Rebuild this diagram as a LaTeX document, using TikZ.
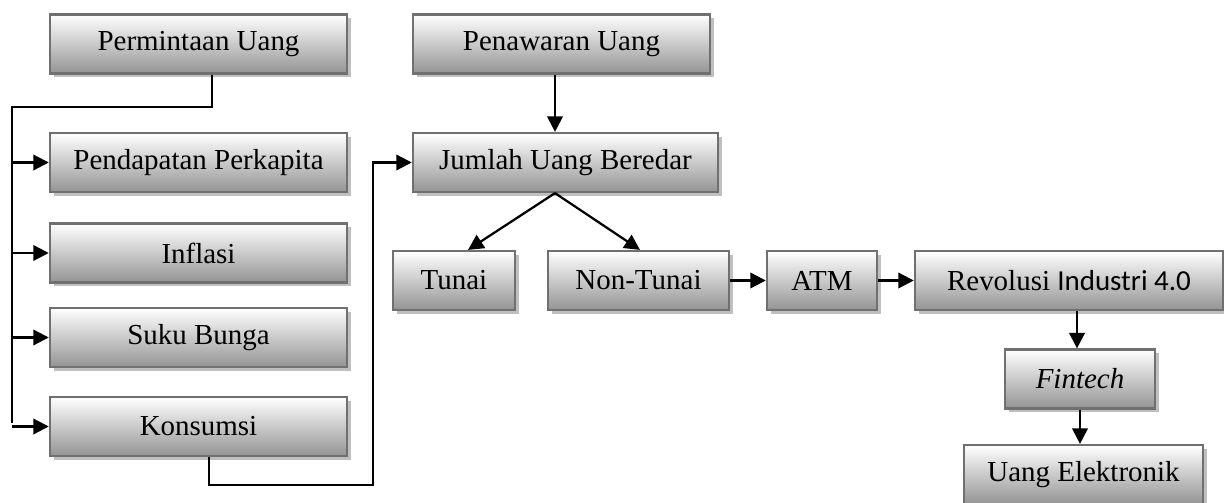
\documentclass[tikz,border=0pt]{standalone}
\usepackage{fontspec}
\setmainfont{Liberation Serif}
\newfontfamily\calfont{Carlito}
\usetikzlibrary{arrows.meta,shadows,calc}

\begin{document}
\begin{tikzpicture}[x=0.025cm,y=-0.025cm,
  box/.style={draw=black!56,line width=1.7pt,top color=white,bottom color=black!42,
    drop shadow={shadow xshift=0.09cm,shadow yshift=-0.09cm,fill=black!25,opacity=1},
    minimum height=1.47cm,inner sep=0pt,font=\fontsize{20.6}{24}\selectfont},
  arr/.style={line width=1.6pt,-{Triangle[length=11pt,width=11pt]}},
  line/.style={line width=1.6pt}]
\useasboundingbox (0,0) rectangle (1224,503);
% left column
\node[box,minimum width=7.425cm] (perm) at (198.5,44) {Permintaan Uang};
\node[box,minimum width=7.425cm] (pend) at (198.5,162.5) {Pendapatan Perkapita};
\node[box,minimum width=7.425cm] (infl) at (198.5,253) {Inflasi};
\node[box,minimum width=7.425cm] (suku) at (198.5,337.5) {Suku Bunga};
\node[box,minimum width=7.425cm] (kons) at (198.5,426.5) {Konsumsi};
% middle
\node[box,minimum width=7.425cm] (pena) at (561.5,44) {Penawaran Uang};
\node[box,minimum width=7.625cm] (jumlah) at (565.5,162.5) {Jumlah Uang Beredar};
\node[box,minimum width=3.05cm] (tunai) at (454,280.5) {Tunai};
\node[box,minimum width=4.525cm] (nontunai) at (638.5,280.5) {Non-Tunai};
% right
\node[box,minimum width=2.75cm] (atm) at (822,280.5) {ATM};
\node[box,minimum width=7.7cm] (rev) at (1069,280.5) {Revolusi {\calfont Industri 4.0}};
\node[box,minimum width=3.75cm] (fintech) at (1080,379) {\textit{Fintech}};
\node[box,minimum width=5.975cm] (uang) at (1083.5,474.5) {Uang Elektronik};

\coordinate (t1) at (12,107);
\coordinate (t2) at (12,423);
\coordinate (k1) at (373,485);
\draw[line] (perm.south) ++(13.5,0) |- (t1) -- (t2);
\foreach \n in {pend,infl,suku,kons}
  \draw[arr] (t1 |- \n.west) -- (\n.west);
\draw[arr] (kons.south) ++(10.5,0) |- (k1) |- (jumlah.west);
\draw[arr] ($(pena.south)+(-6.5,0)$) -- ($(pena.south |- jumlah.north)+(-6.5,0)$);
\draw[arr] ($(jumlah.south)+(-10.5,0)$) -- ($(tunai.north)+(14,0)$);
\draw[arr] ($(jumlah.south)+(-10.5,0)$) -- ($(nontunai.north)+(1.5,0)$);
\draw[arr] (nontunai) -- (atm);
\draw[arr] (atm) -- (rev);
\draw[arr] ($(rev.south)+(8,0)$) -- ($(rev.south |- fintech.north)+(8,0)$);
\draw[arr] (fintech.south) -- (fintech.south |- uang.north);
\end{tikzpicture}
\end{document}
